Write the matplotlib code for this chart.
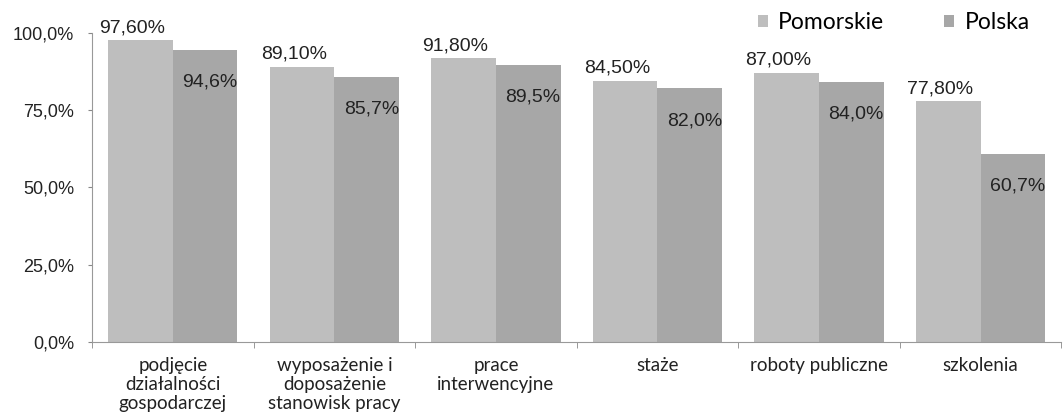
import numpy as np
import matplotlib.pyplot as plt

categories = ["podjęcie\ndziałalności\ngospodarczej", "wyposażenie i\ndoposażenie\nstanowisk pracy",
              "prace\ninterwencyjne", "staże", "roboty publiczne", "szkolenia"]
pomorskie = [97.6, 89.1, 91.8, 84.5, 87.0, 77.8]
polska = [94.6, 85.7, 89.5, 82.0, 84.0, 60.7]
yticks = [0, 25, 50, 75, 100]

col_pom = "#bebebe"
col_pol = "#a7a7a7"

fig = plt.figure(figsize=(10.64, 4.16), dpi=100)
ax = fig.add_axes([0.0865, 0.178, 0.911, 0.743])

x = np.arange(len(categories))
w = 0.4
b1 = ax.bar(x - w / 2, pomorskie, w, color=col_pom, label="Pomorskie")
b2 = ax.bar(x + w / 2, polska, w, color=col_pol, label="Polska")

for r, v in zip(b1, pomorskie):
    ax.annotate(("%.2f%%" % v).replace(".", ","), (r.get_x() + r.get_width() / 2, v),
                xytext=(-6, 3), textcoords="offset points", ha="center", va="bottom",
                fontsize=14, family="Liberation Sans", color="#222222")
for r, v in zip(b2, polska):
    ax.annotate(("%.1f%%" % v).replace(".", ","), (r.get_x() + r.get_width(), v),
                xytext=(0, -17), textcoords="offset points", ha="right", va="top",
                fontsize=14, family="Liberation Sans", color="#222222")

ax.set_xlim(-0.5, len(categories) - 0.5)
ax.set_ylim(0, 100)
ax.set_yticks(yticks)
ax.set_yticklabels([("%.1f%%" % t).replace(".", ",") for t in yticks],
                   fontsize=13, family="Liberation Sans", color="#222222")
ax.set_xticks(x)
ax.set_xticklabels(categories, fontsize=13.5, family="Lato", color="#222222", linespacing=1.15)
ax.set_xticks(np.arange(len(categories) + 1) - 0.5, minor=True)
ax.tick_params(axis="x", which="major", length=0, pad=11)
ax.tick_params(axis="x", which="minor", length=4, color="#888888", direction="out")
ax.tick_params(axis="y", length=3, color="#888888", pad=10)

for s in ["top", "right"]:
    ax.spines[s].set_visible(False)
for s in ["left", "bottom"]:
    ax.spines[s].set_color("#999999")

fig.legend(handles=[b1, b2], loc="center", bbox_to_anchor=(0.84, 0.945), ncol=2, frameon=False,
           prop={"family": "Lato", "size": 16.5}, handlelength=0.45, handleheight=0.45,
           handletextpad=0.45, columnspacing=2.6)

fig.savefig("out.png", dpi=100)
